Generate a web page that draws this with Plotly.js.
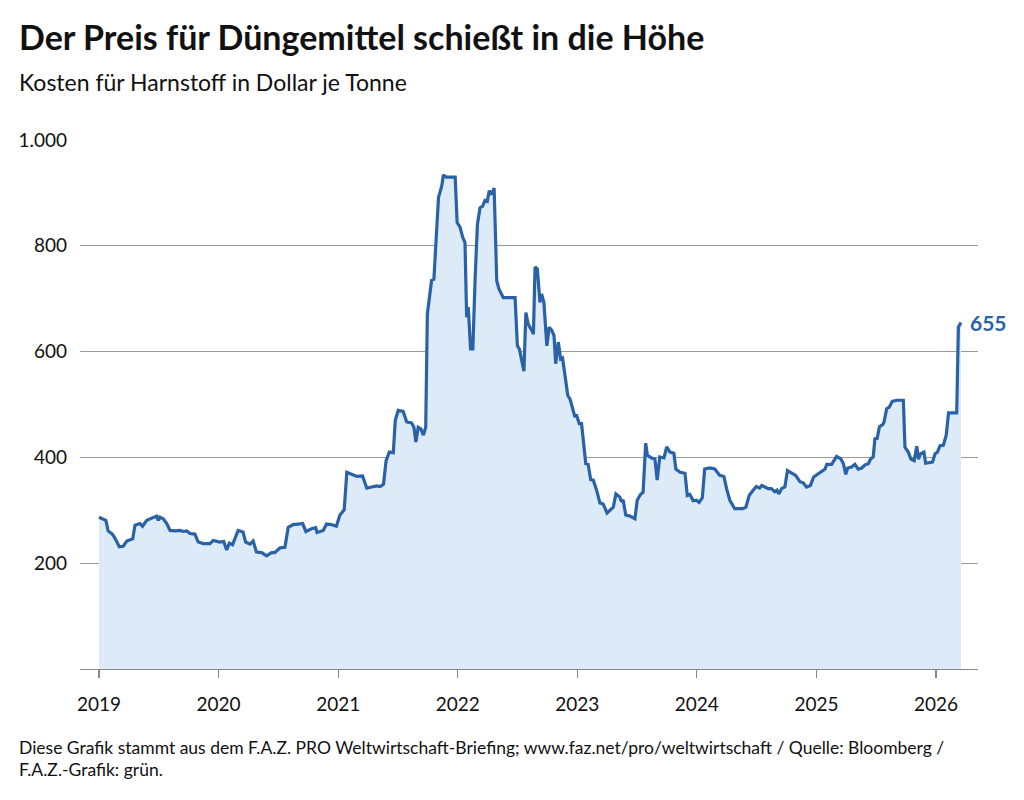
<!DOCTYPE html>
<html>
<head>
<meta charset="utf-8">
<script src="https://cdn.plot.ly/plotly-3.0.1.min.js"></script>
<style>
  html, body { margin: 0; padding: 0; background: #fff; }
  #chart { width: 1024px; height: 800px; }
</style>
</head>
<body>
<div id="chart"></div>
<script>
// Harnstoff (urea) price, USD per tonne
const dates = [
  "2019-01-01","2019-01-14","2019-01-22","2019-01-29","2019-02-11","2019-02-19","2019-03-04","2019-03-16","2019-03-27","2019-04-14",
  "2019-04-21","2019-05-06","2019-05-14","2019-05-27","2019-06-11","2019-06-26","2019-07-01","2019-07-06","2019-07-16","2019-07-27",
  "2019-08-06","2019-08-21","2019-09-06","2019-09-15","2019-09-26","2019-10-06","2019-10-21","2019-10-31","2019-11-16","2019-12-06",
  "2019-12-16","2019-12-26","2020-01-05","2020-01-17","2020-01-26","2020-02-03","2020-02-13","2020-03-01","2020-03-16","2020-03-24",
  "2020-04-06","2020-04-16","2020-04-26","2020-05-12","2020-05-27","2020-06-11","2020-06-21","2020-07-07","2020-07-22","2020-08-01",
  "2020-08-16","2020-09-01","2020-09-14","2020-09-24","2020-10-11","2020-10-24","2020-10-28","2020-11-16","2020-11-26","2020-12-11",
  "2020-12-26","2021-01-06","2021-01-19","2021-01-27","2021-02-11","2021-02-27","2021-03-16","2021-03-29","2021-04-13","2021-04-29",
  "2021-05-09","2021-05-19","2021-05-27","2021-06-06","2021-06-18","2021-06-24","2021-07-03","2021-07-18","2021-07-29","2021-08-13",
  "2021-08-20","2021-08-26","2021-09-02","2021-09-10","2021-09-18","2021-09-25","2021-09-30","2021-10-08","2021-10-13","2021-10-20",
  "2021-10-29","2021-11-03","2021-11-13","2021-11-18","2021-11-26","2021-12-24","2021-12-30","2022-01-08","2022-01-16","2022-01-23",
  "2022-01-28","2022-02-02","2022-02-09","2022-02-16","2022-02-23","2022-03-02","2022-03-10","2022-03-18","2022-03-25","2022-04-01",
  "2022-04-07","2022-04-15","2022-04-22","2022-04-30","2022-05-07","2022-05-20","2022-06-25","2022-07-02","2022-07-08","2022-07-15",
  "2022-07-22","2022-07-28","2022-08-04","2022-08-15","2022-08-20","2022-08-25","2022-09-01","2022-09-09","2022-09-14","2022-09-21",
  "2022-09-30","2022-10-07","2022-10-15","2022-10-22","2022-10-27","2022-11-04","2022-11-11","2022-11-17","2022-11-24","2022-12-03",
  "2022-12-10","2022-12-25","2022-12-29","2023-01-07","2023-01-14","2023-01-27","2023-02-03","2023-02-11","2023-02-19","2023-03-01",
  "2023-03-11","2023-03-21","2023-04-02","2023-04-16","2023-04-21","2023-04-29","2023-05-11","2023-05-16","2023-05-21","2023-05-29",
  "2023-06-11","2023-06-26","2023-07-03","2023-07-13","2023-07-21","2023-07-29","2023-08-03","2023-08-16","2023-08-26","2023-09-02",
  "2023-09-10","2023-09-23","2023-10-01","2023-10-11","2023-10-23","2023-10-29","2023-11-11","2023-11-26","2023-12-03","2023-12-11",
  "2023-12-21","2023-12-31","2024-01-08","2024-01-18","2024-01-25","2024-02-10","2024-02-25","2024-03-11","2024-03-24","2024-04-01",
  "2024-04-11","2024-04-26","2024-05-21","2024-05-30","2024-06-09","2024-06-21","2024-07-01","2024-07-11","2024-07-17","2024-07-27",
  "2024-08-06","2024-08-16","2024-08-26","2024-09-02","2024-09-08","2024-09-16","2024-09-26","2024-10-04","2024-10-16","2024-10-29",
  "2024-11-11","2024-11-21","2024-12-01","2024-12-13","2024-12-23","2025-01-06","2025-01-17","2025-01-27","2025-02-01","2025-02-16",
  "2025-02-23","2025-03-03","2025-03-16","2025-03-24","2025-03-31","2025-04-06","2025-04-18","2025-04-28","2025-05-08","2025-05-19",
  "2025-05-29","2025-06-08","2025-06-15","2025-06-23","2025-06-28","2025-07-05","2025-07-12","2025-07-22","2025-07-26","2025-08-03",
  "2025-08-11","2025-08-20","2025-09-03","2025-09-23","2025-09-28","2025-10-08","2025-10-16","2025-10-26","2025-11-03","2025-11-08",
  "2025-11-15","2025-11-25","2025-11-30","2025-12-13","2025-12-21","2025-12-29","2026-01-05","2026-01-13","2026-01-23","2026-02-01",
  "2026-02-08","2026-03-05","2026-03-10","2026-03-18"
];
const prices = [
  287,283,281,261,255,247,231,232,242,246,
  272,275,270,281,285,289,281,287,284,275,
  262,261,262,260,261,256,255,240,237,237,
  243,242,240,241,225,238,235,262,259,240,
  236,242,221,220,214,220,220,229,230,268,
  273,274,275,260,265,267,258,262,274,273,
  270,291,301,372,368,364,365,342,344,346,
  345,349,394,410,409,470,489,487,467,465,
  457,429,457,454,442,457,671,715,735,737,
  835,891,913,934,930,930,844,835,816,806,
  665,684,605,605,740,841,872,875,886,884,
  904,897,909,734,718,702,702,611,605,583,
  563,674,652,640,633,760,756,693,709,693,
  611,646,640,630,577,618,586,588,558,517,
  510,476,481,464,464,388,387,358,357,338,
  314,312,295,303,306,331,325,316,320,291,
  289,284,319,330,334,427,404,399,397,357,
  401,399,420,410,408,378,372,370,328,330,
  318,319,315,324,378,380,378,366,364,341,
  319,303,303,306,328,338,345,342,347,344,
  341,341,335,338,331,341,344,375,371,366,
  354,352,344,347,363,369,375,378,387,387,
  394,402,397,388,368,380,382,387,378,380,
  386,388,397,401,435,436,458,462,467,492,
  495,506,508,508,419,410,397,394,421,397,
  407,410,389,390,391,407,410,422,423,442,
  484,484,646,655
];
const yearTicks = ["2019-01-01","2020-01-01","2021-01-01","2022-01-01","2023-01-01","2024-01-01","2025-01-01","2026-01-01"];
const yearLabels = ["2019","2020","2021","2022","2023","2024","2025","2026"];
const yTicks = [200, 400, 600, 800, 1000];

const FONT = "Lato, 'Source Sans Pro', 'Noto Sans', sans-serif";
const BLUE = "#2a62a8";

// plot area in pixels: x 80..978, y 140..669
const L = 80, R = 978, T = 140, B = 669;
const px = x => (x - L) / (R - L);
const py = y => (B - y) / (B - T);

const trace = {
  x: dates, y: prices, type: "scatter", mode: "lines",
  line: { color: BLUE, width: 3.2 },
  fill: "tozeroy", fillcolor: "#ddeaf7",
  hoverinfo: "x+y"
};

const lastIdx = prices.length - 1;

const layout = {
  width: 1024, height: 800,
  margin: { l: L, r: 1024 - R, t: T, b: 800 - B },
  paper_bgcolor: "#fff", plot_bgcolor: "#fff",
  separators: ",.",
  showlegend: false,
  font: { family: FONT, color: "#111" },
  xaxis: {
    type: "date",
    range: ["2018-11-04", "2026-05-09"],
    tickmode: "array", tickvals: yearTicks, ticktext: yearLabels,
    ticks: "outside", ticklen: 8, tickwidth: 1.3, tickcolor: "#888",
    showline: true, linecolor: "#888", linewidth: 1.3,
    showgrid: false, zeroline: false,
    tickfont: { family: FONT, size: 19, color: "#111" },
    ticklabelstandoff: 10
  },
  yaxis: {
    range: [0, 1000],
    tickmode: "array", tickvals: yTicks,
    separatethousands: true,
    showgrid: true, gridcolor: "#9a9a9a", gridwidth: 1.3,
    zeroline: false, showline: false, ticks: "",
    tickfont: { family: FONT, size: 19, color: "#111" },
    ticklabelstandoff: 12
  },
  annotations: [
    { xref: "paper", yref: "paper", x: px(17), y: py(37), xanchor: "left", yanchor: "middle",
      text: "<b>Der Preis für Düngemittel schießt in die Höhe</b>", showarrow: false,
      font: { family: FONT, size: 34, color: "#111" } },
    { xref: "paper", yref: "paper", x: px(17), y: py(82), xanchor: "left", yanchor: "middle",
      text: "Kosten für Harnstoff in Dollar je Tonne", showarrow: false,
      font: { family: FONT, size: 23, color: "#111" } },
    { xref: "paper", yref: "paper", x: px(17), y: py(747), xanchor: "left", yanchor: "middle",
      text: "Diese Grafik stammt aus dem F.A.Z. PRO Weltwirtschaft-Briefing; www.faz.net/pro/weltwirtschaft / Quelle: Bloomberg /",
      showarrow: false, font: { family: FONT, size: 17.5, color: "#111" } },
    { xref: "paper", yref: "paper", x: px(17), y: py(769), xanchor: "left", yanchor: "middle",
      text: "F.A.Z.-Grafik: grün.", showarrow: false,
      font: { family: FONT, size: 17.5, color: "#111" } },
    { xref: "x", yref: "y", x: dates[lastIdx], y: prices[lastIdx], xanchor: "left", yanchor: "middle",
      xshift: 7, text: "<b>" + prices[lastIdx] + "</b>", showarrow: false,
      font: { family: FONT, size: 21, color: BLUE } }
  ]
};

Plotly.newPlot("chart", [trace], layout, { displayModeBar: false, staticPlot: true });
</script>
</body>
</html>
